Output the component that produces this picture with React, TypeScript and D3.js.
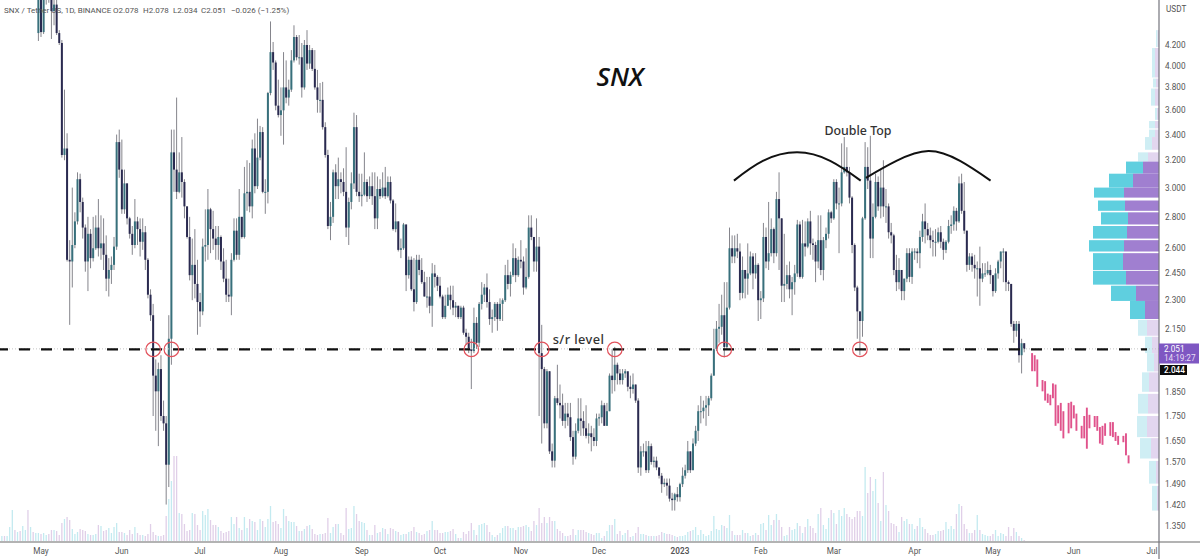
import * as d3 from "d3";

const width = 1200;
const height = 559;

// daily candles, first one is 30 Apr 2022 (day -1 from the May tick)
const closes = [
    4.70,4.33,4.70,4.85,4.72,4.55,4.62,4.32,4.22,3.24,
    3.29,2.53,2.52,2.62,2.77,3.06,2.90,2.73,2.52,2.69,
    2.54,2.60,2.73,2.60,2.63,2.56,2.42,2.47,2.50,2.61,
    3.34,3.13,2.85,3.03,2.79,2.69,2.62,2.77,2.72,2.64,
    2.70,2.53,2.33,2.22,1.925,1.855,1.955,1.75,1.72,1.56,
    2.10,3.26,3.13,2.97,3.11,3.04,2.87,2.67,2.44,2.50,
    2.39,2.29,2.24,2.61,2.62,2.85,2.72,2.66,2.62,2.67,
    2.52,2.42,2.33,2.32,2.53,2.71,2.56,2.80,2.67,2.96,
    2.97,2.87,3.29,3.01,3.22,3.42,2.97,2.97,3.75,4.13,
    4.03,3.64,3.56,3.60,3.80,3.71,3.78,4.05,4.28,4.08,
    4.08,3.80,4.20,4.02,4.15,3.97,3.80,3.69,3.69,3.46,
    3.24,2.74,2.80,3.11,3.01,3.06,3.04,2.97,2.73,2.90,
    3.03,3.46,2.97,2.94,2.95,3.04,2.94,3.01,2.94,2.79,
    2.99,2.94,3.00,2.94,3.04,2.91,2.72,2.77,2.59,2.60,
    2.75,2.44,2.53,2.36,2.29,2.53,2.47,2.40,2.32,2.32,
    2.27,2.45,2.43,2.38,2.32,2.21,2.27,2.33,2.30,2.26,
    2.27,2.21,2.26,2.13,2.11,2.05,2.04,2.18,2.08,2.28,
    2.33,2.37,2.29,2.20,2.21,2.28,2.20,2.28,2.30,2.44,
    2.39,2.44,2.54,2.44,2.53,2.52,2.37,2.43,2.73,2.67,
    2.52,2.61,2.03,1.955,1.72,1.945,1.61,1.575,1.825,1.805,
    1.795,1.73,1.76,1.745,1.665,1.59,1.69,1.74,1.73,1.70,
    1.67,1.68,1.665,1.65,1.74,1.745,1.795,1.71,1.77,1.925,
    1.905,1.975,1.935,1.905,1.935,1.945,1.875,1.865,1.885,1.815,
    1.55,1.61,1.61,1.54,1.63,1.57,1.575,1.55,1.52,1.49,
    1.495,1.485,1.44,1.435,1.455,1.445,1.49,1.52,1.54,1.61,
    1.54,1.64,1.69,1.77,1.77,1.785,1.795,1.825,1.925,2.05,
    2.15,2.16,2.22,2.06,2.26,2.60,2.55,2.60,2.58,2.34,
    2.47,2.42,2.45,2.55,2.45,2.50,2.30,2.31,2.67,2.52,
    2.57,2.72,2.57,2.92,2.79,2.38,2.39,2.44,2.36,2.40,
    2.45,2.75,2.43,2.63,2.61,2.77,2.63,2.62,2.52,2.65,
    2.47,2.65,2.69,2.83,2.79,3.04,2.89,2.89,3.11,3.15,
    3.11,2.93,2.62,2.37,2.24,2.19,2.79,3.15,3.05,2.66,
    2.80,3.04,2.87,3.00,2.87,2.87,2.70,2.68,2.47,2.40,
    2.47,2.35,2.42,2.57,2.43,2.58,2.58,2.57,2.67,2.77,
    2.72,2.68,2.65,2.64,2.64,2.70,2.64,2.59,2.64,2.74,
    2.75,2.84,2.77,3.03,2.84,2.71,2.50,2.55,2.50,2.48,
    2.48,2.42,2.45,2.45,2.47,2.44,2.35,2.45,2.52,2.58,
    2.58,2.40,2.39,2.175,2.14,2.175,2.02,2.078,2.051,
];

const highs = [
    4.85,4.82,4.78,4.95,4.95,4.85,4.72,4.70,4.35,4.25,
    3.78,3.41,2.65,3.00,2.83,3.11,3.10,2.93,2.75,2.80,
    2.72,2.80,2.81,2.92,2.81,2.79,2.68,2.54,2.55,2.67,
    3.40,3.44,3.36,3.13,3.03,2.80,2.74,2.92,2.80,2.79,
    2.79,2.74,2.54,2.36,2.28,2.00,1.985,2.02,1.815,1.75,
    2.22,3.44,3.44,3.71,3.26,3.38,3.06,2.87,2.80,2.66,
    2.72,2.53,2.34,2.66,2.85,2.99,2.86,2.84,2.74,2.74,
    2.68,2.60,2.53,2.42,2.57,2.79,2.79,2.99,2.80,3.15,
    3.20,3.18,3.36,3.41,3.53,3.47,3.46,3.06,3.76,4.44,
    4.23,4.05,3.87,3.80,4.13,4.05,3.87,4.15,4.40,4.30,
    4.30,4.22,4.25,4.35,4.20,4.17,4.15,3.96,3.84,3.85,
    3.50,3.28,2.90,3.13,3.17,3.22,3.11,3.14,3.30,2.93,
    3.11,3.58,3.56,3.10,3.10,3.26,3.06,3.08,3.11,3.11,
    3.08,3.06,3.11,3.15,3.08,3.08,2.92,2.89,2.77,2.66,
    2.76,2.75,2.55,2.55,2.54,2.56,2.56,2.54,2.46,2.43,
    2.43,2.51,2.50,2.44,2.43,2.33,2.33,2.37,2.38,2.38,
    2.29,2.27,2.27,2.27,2.15,2.13,2.10,2.26,2.21,2.29,
    2.40,2.39,2.45,2.36,2.25,2.29,2.29,2.31,2.31,2.50,
    2.53,2.46,2.63,2.60,2.55,2.65,2.55,2.60,2.81,2.81,
    2.67,2.79,2.67,2.17,1.965,1.955,1.945,1.64,1.835,1.975,
    1.885,1.845,1.805,1.805,1.805,1.69,1.72,1.825,1.825,1.77,
    1.795,1.72,1.71,1.70,1.76,1.76,1.815,1.805,1.805,1.935,
    2.05,2.06,1.985,1.955,1.955,1.955,1.935,1.925,1.935,1.885,
    1.825,1.63,1.64,1.65,1.65,1.64,1.59,1.59,1.55,1.53,
    1.51,1.51,1.51,1.46,1.46,1.48,1.495,1.55,1.56,1.65,
    1.61,1.66,1.71,1.795,1.835,1.815,1.835,1.835,1.935,2.15,
    2.19,2.28,2.33,2.40,2.40,2.73,2.68,2.68,2.69,2.63,
    2.55,2.47,2.63,2.58,2.57,2.57,2.51,2.35,2.76,2.73,
    2.90,2.79,2.73,2.97,3.11,2.79,2.69,2.50,2.52,2.43,
    2.50,2.78,2.77,2.78,2.77,2.79,2.84,2.66,2.64,2.81,
    2.81,2.67,2.73,2.85,2.84,3.06,3.06,3.00,3.33,3.38,
    3.30,3.15,2.94,2.63,2.38,2.24,2.80,3.34,3.30,3.39,
    2.89,3.10,3.08,3.13,3.20,2.99,2.89,2.76,2.69,2.56,
    2.54,2.40,2.42,2.60,2.60,2.60,2.60,2.60,2.71,2.82,
    2.89,2.76,2.73,2.71,2.72,2.73,2.74,2.66,2.65,2.78,
    2.81,2.87,2.86,3.08,3.10,3.04,2.71,2.57,2.57,2.56,
    2.52,2.61,2.51,2.51,2.52,2.50,2.43,2.48,2.53,2.58,
    2.60,2.58,2.41,2.39,2.19,2.19,2.19,2.10,2.078,
];

const lows = [
    4.24,4.28,4.31,4.62,4.64,4.26,4.40,4.30,4.20,3.22,
    3.20,2.52,2.17,2.37,2.60,2.75,2.83,2.66,2.46,2.35,
    2.48,2.52,2.59,2.55,2.53,2.47,2.35,2.32,2.39,2.47,
    2.59,3.07,2.82,2.82,2.75,2.66,2.56,2.60,2.62,2.55,
    2.59,2.47,2.31,2.19,1.75,1.69,1.63,1.73,1.69,1.42,
    1.48,1.975,2.97,2.92,2.96,2.93,2.79,2.66,2.41,2.30,
    2.31,2.12,2.16,2.22,2.52,2.53,2.57,2.59,2.53,2.53,
    2.47,2.40,2.29,2.29,2.22,2.52,2.53,2.53,2.66,2.66,
    2.84,2.83,2.79,2.96,2.99,3.20,2.96,2.82,2.89,3.73,
    3.96,3.60,3.54,3.39,3.32,3.66,3.64,3.76,4.03,4.05,
    4.01,3.71,3.78,3.96,3.97,3.95,3.78,3.58,3.58,3.44,
    3.22,2.72,2.65,2.76,2.92,2.92,2.96,2.94,2.67,2.62,
    2.85,2.99,2.94,2.90,2.87,2.94,2.90,2.92,2.88,2.72,
    2.72,2.92,2.93,2.92,2.93,2.89,2.71,2.70,2.58,2.54,
    2.59,2.35,2.42,2.35,2.24,2.28,2.44,2.39,2.32,2.26,
    2.23,2.16,2.37,2.35,2.31,2.20,2.20,2.27,2.25,2.22,
    2.21,2.20,2.20,2.12,2.07,2.03,1.865,2.03,2.05,2.06,
    2.25,2.29,2.26,2.17,2.13,2.19,2.14,2.19,2.19,2.29,
    2.36,2.32,2.43,2.40,2.43,2.48,2.33,2.36,2.42,2.65,
    2.46,2.46,1.75,1.64,1.70,1.70,1.60,1.55,1.55,1.795,
    1.74,1.71,1.70,1.71,1.65,1.56,1.58,1.68,1.67,1.67,
    1.66,1.64,1.61,1.63,1.63,1.71,1.72,1.71,1.71,1.77,
    1.845,1.855,1.885,1.885,1.885,1.915,1.855,1.825,1.845,1.805,
    1.53,1.52,1.59,1.53,1.53,1.56,1.55,1.54,1.51,1.46,
    1.48,1.45,1.43,1.40,1.40,1.43,1.43,1.48,1.51,1.53,
    1.53,1.54,1.63,1.65,1.72,1.74,1.71,1.75,1.815,1.925,
    2.04,2.08,2.12,2.01,2.05,2.25,2.51,2.51,2.54,2.30,
    2.31,2.31,2.33,2.44,2.36,2.42,2.19,2.20,2.29,2.48,
    2.47,2.55,2.51,2.55,2.47,2.29,2.29,2.36,2.31,2.22,
    2.33,2.43,2.42,2.42,2.55,2.60,2.56,2.53,2.40,2.48,
    2.44,2.41,2.60,2.66,2.76,2.78,2.85,2.57,2.87,3.10,
    3.08,2.89,2.57,2.35,2.10,2.02,2.11,2.78,2.99,2.54,
    2.54,2.79,2.84,2.79,2.80,2.76,2.66,2.63,2.44,2.35,
    2.36,2.30,2.30,2.40,2.40,2.39,2.53,2.51,2.48,2.64,
    2.63,2.65,2.60,2.55,2.55,2.63,2.60,2.53,2.57,2.63,
    2.69,2.71,2.71,2.76,2.82,2.69,2.46,2.47,2.46,2.42,
    2.32,2.27,2.40,2.43,2.44,2.39,2.32,2.34,2.42,2.48,
    2.40,2.35,2.35,2.16,2.08,2.11,1.985,1.935,2.034,
];

const firstOpen = 4.32;

const volumes = [
    8,7,8,6,7,11,11,10,6,18,
    22,24,21,12,7,9,12,11,10,7,
    6,6,7,16,15,10,11,13,8,14,
    18,9,9,8,6,11,7,14,8,6,
    6,5,7,17,9,6,5,5,6,25,
    42,60,85,85,28,27,17,10,11,28,
    27,16,11,30,26,32,21,16,16,14,
    10,8,9,10,24,17,24,13,11,24,
    13,22,20,19,11,22,20,14,22,35,
    19,20,17,13,32,25,20,19,19,15,
    10,10,12,15,16,12,7,6,7,7,
    8,23,8,14,17,17,8,6,33,12,
    13,35,27,20,19,18,11,6,6,16,
    8,9,13,12,7,13,12,10,9,6,
    7,7,9,10,14,9,8,6,7,10,
    11,20,11,11,8,8,9,9,10,12,
    7,3,3,9,7,10,18,11,6,16,
    17,18,16,9,6,4,6,8,13,15,
    15,13,13,11,14,14,15,16,14,10,
    20,16,33,18,24,18,24,20,20,12,
    10,8,5,5,6,12,6,11,11,11,
    9,8,7,6,8,8,3,5,10,16,
    16,22,7,10,6,8,11,4,5,8,
    14,7,7,6,5,5,5,5,6,9,
    8,7,7,6,5,4,5,5,6,9,
    10,11,14,6,11,7,5,6,10,25,
    12,11,16,15,13,26,10,6,6,6,
    11,8,8,5,6,8,6,17,18,11,
    26,16,21,27,21,14,5,6,14,11,
    12,18,15,8,14,22,15,13,8,27,
    33,16,12,23,31,28,17,31,25,33,
    27,24,22,24,30,30,25,74,48,64,
    50,62,38,20,69,36,30,18,17,15,
    9,24,20,22,17,17,12,15,23,14,
    12,8,6,6,7,10,10,11,19,12,
    15,12,27,37,35,17,12,8,8,11,
    26,11,7,6,5,5,7,11,5,8,
    7,5,14,5,13,9,5,3,1,
];

// volume of the days whose candles are above the visible range (day -15 .. -2)
const earlyVolumes = [5,5,5,14,31,11,9,10,15,11,31,14,9,8];
const earlyVolumeUp = [true,false,true,true,true,false,true,false,true,true,false,true,false,true];

// pink projected bars: day offset from 1 May 2022, top and bottom price
const ghostDays = [380,381,382,384,385,386,387,388,389,390,391,392,394,395,396,397,399,400,401,402,404,405,406,407,408,410,411,412,413,415,416,417];
const ghostTops = [2.03,2.02,2.00,1.905,1.90,1.845,1.84,1.89,1.885,1.795,1.805,1.77,1.805,1.81,1.795,1.76,1.71,1.75,1.785,1.755,1.75,1.75,1.705,1.71,1.72,1.725,1.725,1.685,1.67,1.67,1.68,1.595];
const ghostBottoms = [1.945,1.945,1.875,1.855,1.815,1.805,1.795,1.825,1.71,1.72,1.69,1.66,1.68,1.70,1.74,1.69,1.66,1.66,1.62,1.70,1.705,1.69,1.64,1.635,1.67,1.67,1.665,1.65,1.635,1.645,1.595,1.565];

// volume profile rows, top to bottom
const profileTops = [4.35,4.17,3.88,3.79,3.62,3.51,3.44,3.38,3.26,3.19,3.10,3.00,2.91,2.83,2.74,2.65,2.57,2.465,2.38,2.296,2.195,2.11,2.03,1.94,1.844,1.75,1.661,1.574,1.484];
const profileBottoms = [4.18,3.89,3.80,3.64,3.52,3.45,3.38,3.28,3.19,3.10,3.00,2.93,2.84,2.75,2.66,2.58,2.47,2.386,2.296,2.20,2.115,2.03,1.944,1.853,1.76,1.665,1.583,1.492,1.40];
const profileDown = [1.3,4,3,4,2,4,4,7,11,16,26,35,34,31,32,35,36,33,23,14,12,7,5,10,11,12,8,3,2];
const profileUp = [1.7,3,3,4,2,6,6,7,10,17,24,30,27,27,34,35,30,33,25,15,9,7,7,7,10,10,11,7,5];
const valueAreaRows = [9, 19];

const priceTicks = [4.2,4.0,3.8,3.6,3.4,3.2,3.0,2.8,2.6,2.45,2.3,2.15,1.85,1.75,1.65,1.57,1.49,1.42,1.35];
const timeTicks = ["2022-05-01","2022-06-01","2022-07-01","2022-08-01","2022-09-01","2022-10-01","2022-11-01","2022-12-01","2023-01-01","2023-02-01","2023-03-01","2023-04-01","2023-05-01","2023-06-01","2023-07-01"];

const srLevel = 2.048;
const srCircleDays = [43, 50, 165, 192, 220, 262, 314];
const topArcLeftDays = [265.7, 276.8, 289.9, 302.6, 314.3];
const topArcLeftPrices = [3.05, 3.195, 3.26, 3.195, 3.05];
const topArcRightDays = [316.3, 328, 340.3, 352.4, 364.1];
const topArcRightPrices = [3.07, 3.195, 3.27, 3.195, 3.05];

const startDate = new Date(Date.UTC(2022, 4, 1));
const dayToDate = (d: number) => new Date(startDate.getTime() + d * 864e5);

const xScale = d3
    .scaleUtc()
    .domain([startDate, new Date(Date.UTC(2023, 6, 1))])
    .range([41, 1152]);
const xDay = (d: number) => xScale(dayToDate(d));
const yScale = d3.scaleLog().domain([1.35, 4.2]).range([526, 45]);
const volScale = d3.scaleLinear().domain([0, 100]).range([541, 441]);
const profileScale = d3.scaleLinear().domain([0, 70]).range([1159, 1089]);
const monthFmt = d3.utcFormat("%b");

const labelFont = "Roboto, sans-serif";
const noteFont = "'Noto Sans', sans-serif";
const axisX = 1159;
const upVolColor = "#c3eaf0";
const downVolColor = "#e0cfe8";

const headerParts = [
    { x: 4, t: "SNX / Tether US, 1D, BINANCE" },
    { x: 113, t: "O2.078" },
    { x: 143, t: "H2.078" },
    { x: 173, t: "L2.034" },
    { x: 201, t: "C2.051" },
    { x: 231, t: "\u22120.026 (\u22121.25%)" },
];

const arcLine = d3
    .line<[number, number]>()
    .x((p) => xDay(p[0]))
    .y((p) => yScale(p[1]))
    .curve(d3.curveNatural);

const App = () => {
    const opens = closes.map((_, i) => (i === 0 ? firstOpen : closes[i - 1]));
    const leftArc = arcLine(topArcLeftDays.map((d, i) => [d, topArcLeftPrices[i]] as [number, number]));
    const rightArc = arcLine(topArcRightDays.map((d, i) => [d, topArcRightPrices[i]] as [number, number]));

    return (
        <svg
            width={width}
            height={height}
            style={{ position: "fixed", left: 0, top: 0, display: "block", background: "#fff" }}
        >
            {/* volume */}
            <g strokeWidth={1.3}>
                {earlyVolumes.map((v, i) => (
                    <line
                        key={`early-${i}`}
                        x1={xDay(i - 15)}
                        x2={xDay(i - 15)}
                        y1={volScale(0)}
                        y2={volScale(v)}
                        stroke={earlyVolumeUp[i] ? upVolColor : downVolColor}
                    />
                ))}
                {volumes.map((v, i) => (
                    <line
                        key={`vol-${i}`}
                        x1={xDay(i - 1)}
                        x2={xDay(i - 1)}
                        y1={volScale(0)}
                        y2={volScale(v)}
                        stroke={closes[i] >= opens[i] ? upVolColor : downVolColor}
                    />
                ))}
            </g>

            {/* candles */}
            <g>
                {closes.map((c, i) => {
                    const x = xDay(i - 1);
                    const top = yScale(Math.max(c, opens[i]));
                    const bottom = yScale(Math.min(c, opens[i]));
                    return (
                        <g key={`candle-${i}`}>
                            <line x1={x} x2={x} y1={yScale(highs[i])} y2={yScale(lows[i])} stroke="#85858c" strokeWidth={1} />
                            <rect
                                x={x - 1}
                                width={2}
                                y={top}
                                height={Math.max(bottom - top, 1)}
                                fill={c >= opens[i] ? "#38707c" : "#2a2a50"}
                            />
                        </g>
                    );
                })}
            </g>

            {/* projected bars */}
            <g>
                {ghostDays.map((d, i) => (
                    <rect
                        key={`ghost-${i}`}
                        x={xDay(d) - 0.9}
                        width={1.9}
                        y={yScale(ghostTops[i])}
                        height={yScale(ghostBottoms[i]) - yScale(ghostTops[i])}
                        fill="#e0538c"
                    />
                ))}
            </g>

            {/* volume profile */}
            <g>
                {profileTops.map((t, i) => {
                    const strong = i >= valueAreaRows[0] && i <= valueAreaRows[1];
                    const y = yScale(t);
                    const h = yScale(profileBottoms[i]) - y;
                    const downX = profileScale(profileDown[i]);
                    const upX = profileScale(profileDown[i] + profileUp[i]);
                    return (
                        <g key={`profile-${i}`}>
                            <rect x={upX} y={y} width={downX - upX} height={h} fill={strong ? "#5fcfdf" : "#cfeef4"} />
                            <rect x={downX} y={y} width={axisX - downX} height={h} fill={strong ? "#a07fd0" : "#e2d6ef"} />
                        </g>
                    );
                })}
            </g>

            {/* s/r level */}
            <line x1={0} x2={axisX} y1={yScale(srLevel) - 0.5} y2={yScale(srLevel) - 0.5} stroke="#c4c4c4" strokeWidth={1} strokeDasharray="1 2" />
            <line
                x1={0}
                x2={1147}
                y1={yScale(srLevel)}
                y2={yScale(srLevel)}
                stroke="#111"
                strokeWidth={2.3}
                strokeDasharray="11 11"
                strokeDashoffset={3}
            />
            {srCircleDays.map((d) => (
                <circle key={`sr-${d}`} cx={xDay(d)} cy={yScale(srLevel)} r={7.3} fill="none" stroke="#e2525c" strokeWidth={1.2} />
            ))}

            {/* double top arcs */}
            <path d={leftArc ?? ""} fill="none" stroke="#111" strokeWidth={2} />
            <path d={rightArc ?? ""} fill="none" stroke="#111" strokeWidth={2} />

            {/* annotations */}
            <text x={620} y={86} textAnchor="middle" fontFamily="'Open Sans', sans-serif" fontStyle="italic" fontWeight={600} fontSize={26} fill="#111">
                SNX
            </text>
            <text x={858} y={135} textAnchor="middle" fontFamily={noteFont} fontWeight={500} fontSize={12.4} fill="#333">
                Double Top
            </text>
            <text x={578.5} y={344} textAnchor="middle" fontFamily={noteFont} fontWeight={500} fontSize={12.8} fill="#333" letterSpacing={0.4}>
                s/r level
            </text>

            {/* legend line */}
            <g fontFamily={labelFont} fontSize={8} fill="#555">
                {headerParts.map((p) => (
                    <text key={p.t} x={p.x} y={13}>
                        {p.t}
                    </text>
                ))}
            </g>

            {/* axes */}
            <line x1={0} x2={width} y1={542} y2={542} stroke="#9a9a9a" strokeWidth={1.4} />
            <line x1={axisX} x2={axisX} y1={0} y2={height} stroke="#74747c" strokeWidth={1.2} />
            <g fontFamily={labelFont} fontSize={8.2} fill="#555">
                <text x={1166} y={12}>USDT</text>
                {priceTicks.map((p) => (
                    <text key={`p-${p}`} x={1165} y={yScale(p) + 3}>
                        {d3.format(".3f")(p)}
                    </text>
                ))}
                {timeTicks.map((t) => {
                    const date = new Date(`${t}T00:00:00Z`);
                    const isYear = date.getUTCMonth() === 0;
                    return (
                        <text key={t} x={xScale(date)} y={554} textAnchor="middle" fontWeight={isYear ? 600 : 400}>
                            {isYear ? date.getUTCFullYear() : monthFmt(date)}
                        </text>
                    );
                })}
            </g>

            {/* price tags */}
            <rect x={axisX} y={343.5} width={40} height={20} fill="#7e57c2" />
            <text x={1164} y={352} fontFamily={labelFont} fontSize={8.2} fill="#fff">2.051</text>
            <text x={1164} y={361} fontFamily={labelFont} fontSize={8.2} fill="#e8dcf5">14:19:27</text>
            <rect x={axisX + 1} y={365} width={27} height={10} fill="#0c0c0c" />
            <text x={1164} y={373} fontFamily={labelFont} fontSize={8.2} fontWeight={500} fill="#fff">2.044</text>
        </svg>
    );
};

export default App;
